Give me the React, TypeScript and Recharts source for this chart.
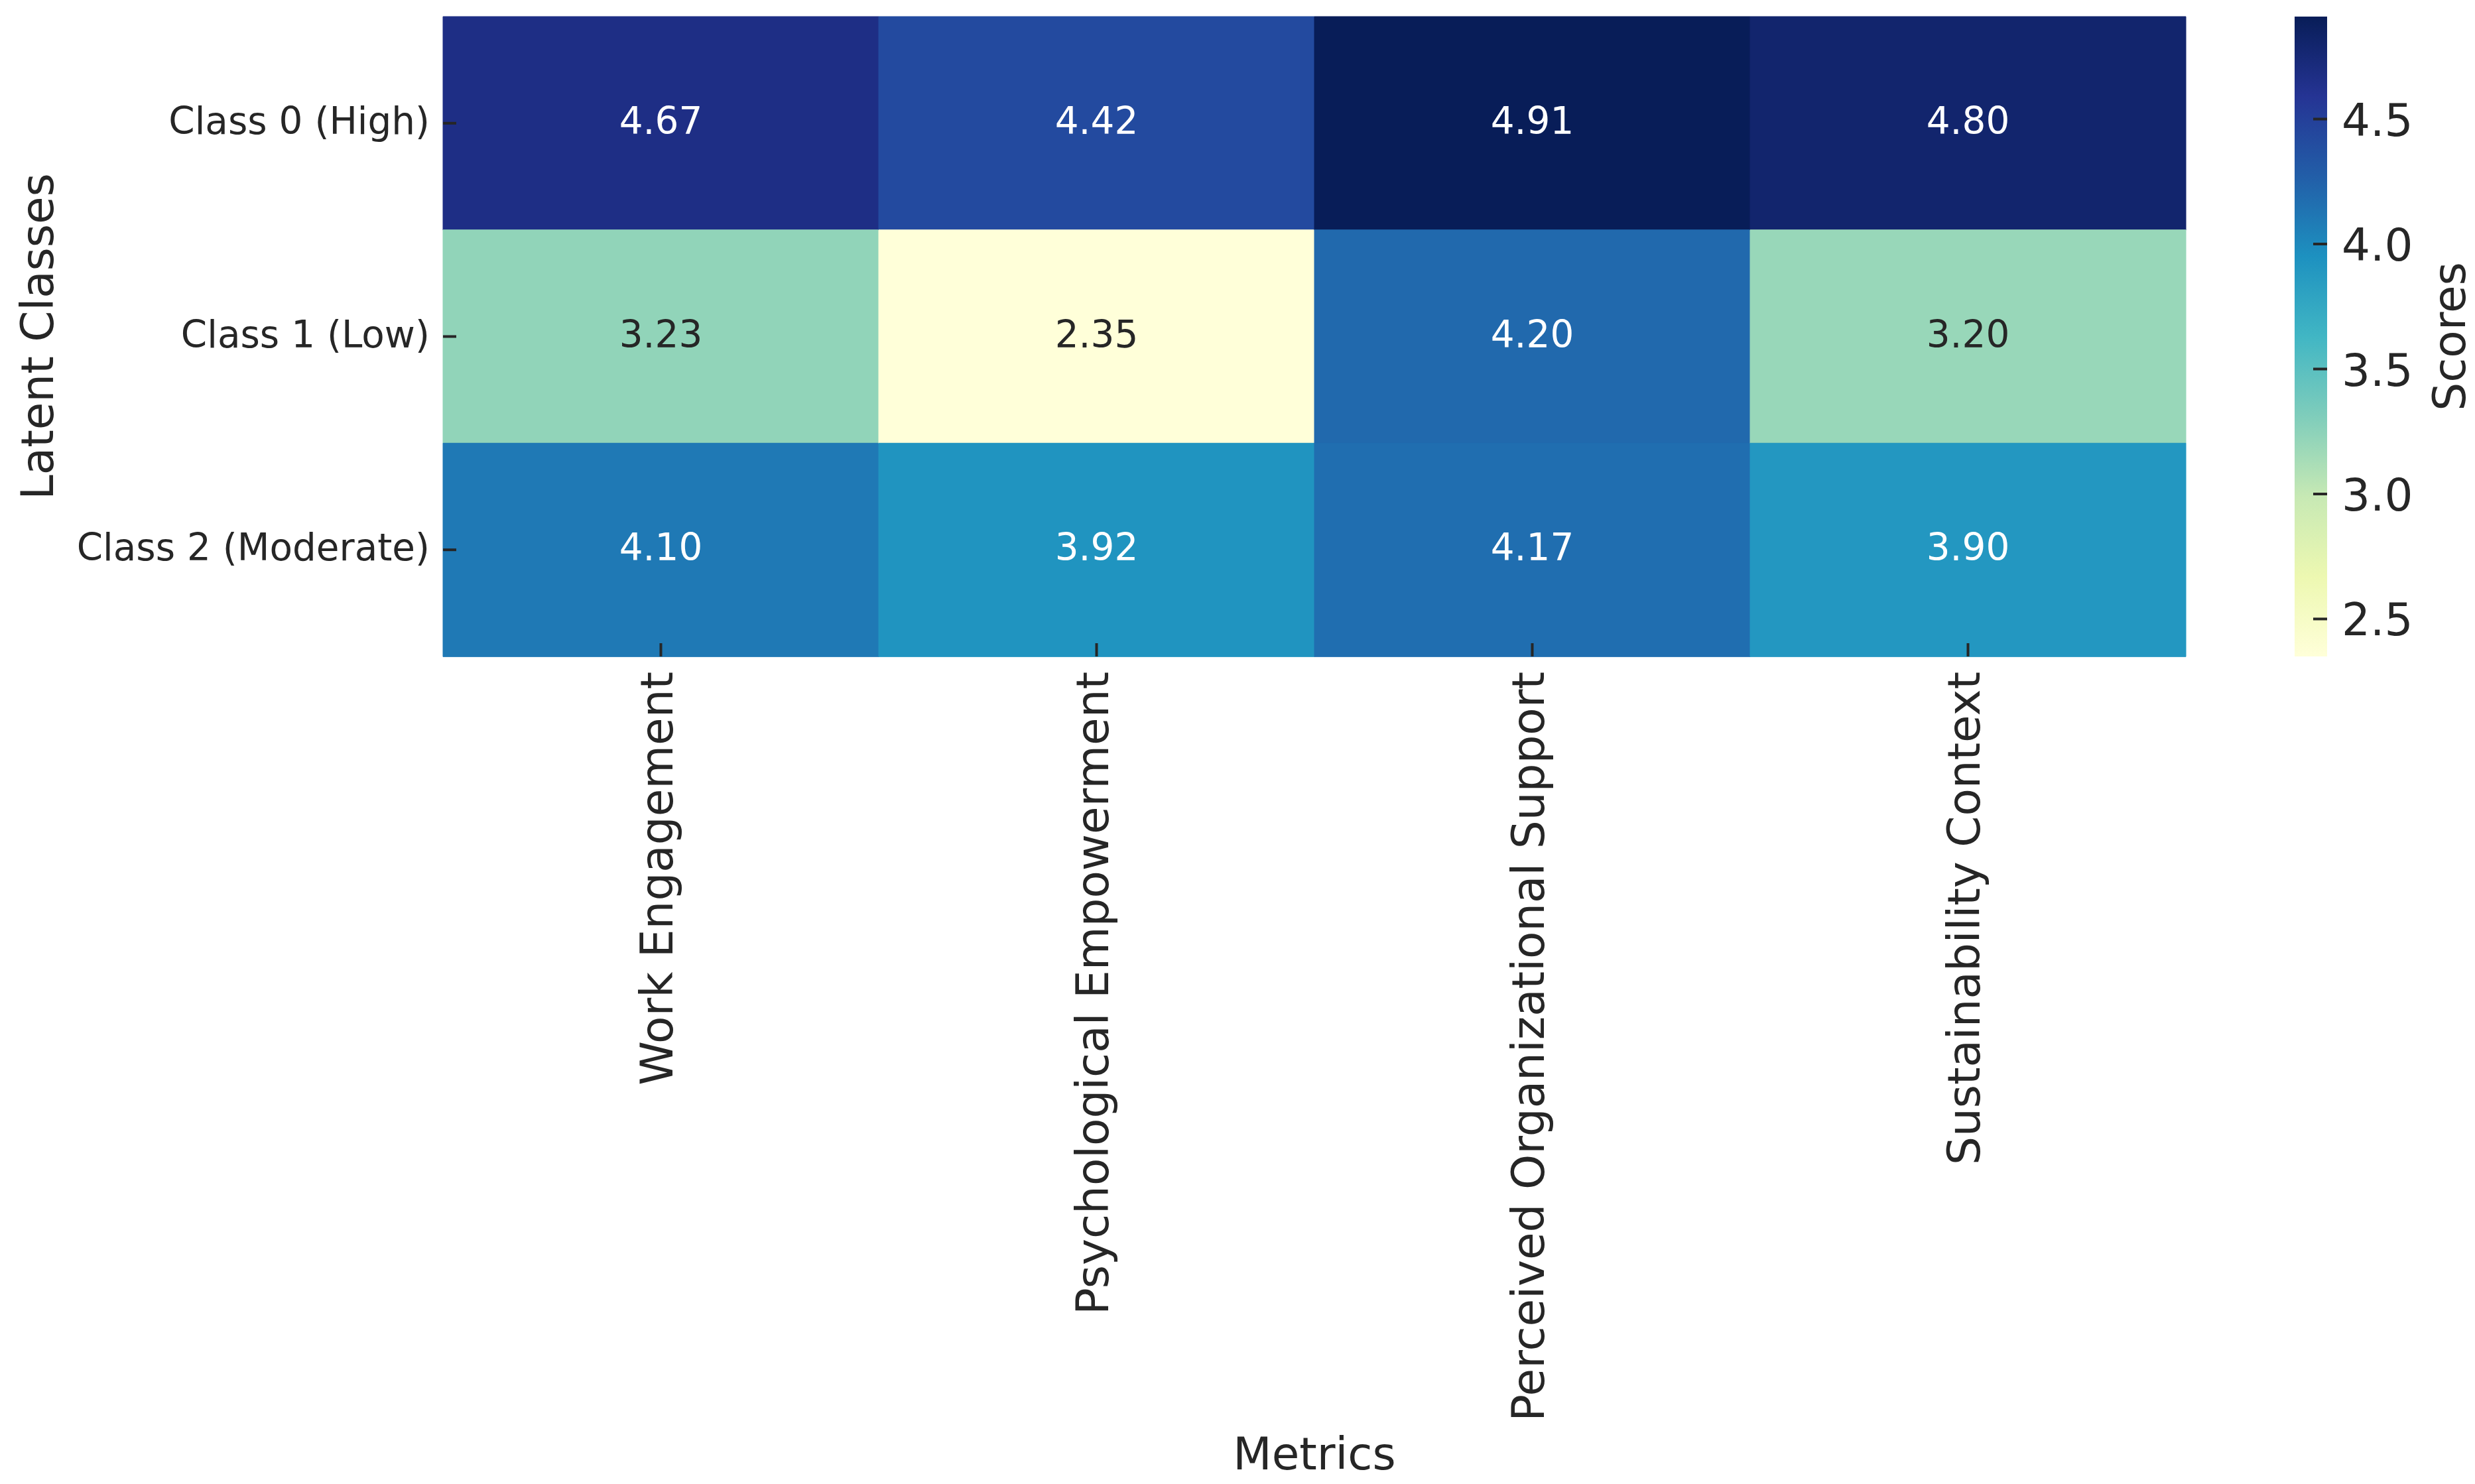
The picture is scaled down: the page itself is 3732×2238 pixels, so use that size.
import React from 'react';
import { BarChart, Bar, XAxis, YAxis, Cell, LabelList, Label } from 'recharts';

const classes = ['Class 0 (High)', 'Class 1 (Low)', 'Class 2 (Moderate)'];
const metrics = ['Work Engagement', 'Psychological Empowerment', 'Perceived Organizational Support', 'Sustainability Context'];
const class0Scores = [4.67, 4.42, 4.91, 4.8];
const class1Scores = [3.23, 2.35, 4.2, 3.2];
const class2Scores = [4.1, 3.92, 4.17, 3.9];
const colorbarTicks = [2.5, 3.0, 3.5, 4.0, 4.5];
const xTickPositions = [0.5, 1.5, 2.5, 3.5];

const scoreRows = [class0Scores, class1Scores, class2Scores];
const allScores = scoreRows.flat();
const vmin = Math.min(...allScores);
const vmax = Math.max(...allScores);

const YLGNBU = ['#ffffd9', '#edf8b1', '#c7e9b4', '#7fcdbb', '#41b6c4', '#1d91c0', '#225ea8', '#253494', '#081d58'];

const hexToRgb = (h: string) => [parseInt(h.slice(1, 3), 16), parseInt(h.slice(3, 5), 16), parseInt(h.slice(5, 7), 16)];

function colorRgb(v: number) {
  const t = Math.max(0, Math.min(1, (v - vmin) / (vmax - vmin)));
  const pos = t * (YLGNBU.length - 1);
  const i = Math.min(YLGNBU.length - 2, Math.floor(pos));
  const f = pos - i;
  const a = hexToRgb(YLGNBU[i]);
  const b = hexToRgb(YLGNBU[i + 1]);
  return a.map((c, k) => Math.round(c + (b[k] - c) * f));
}
function colorFor(v: number) {
  const [r, g, b] = colorRgb(v);
  return `rgb(${r},${g},${b})`;
}
function luminance(v: number) {
  const rgb = colorRgb(v).map((c) => {
    const s = c / 255;
    return s <= 0.03928 ? s / 12.92 : Math.pow((s + 0.055) / 1.055, 2.4);
  });
  return 0.2126 * rgb[0] + 0.7152 * rgb[1] + 0.0722 * rgb[2];
}

const tableData = classes.map((name, i) => {
  const row: any = { name };
  metrics.forEach((_, j) => {
    row[`u${j}`] = 1;
    row[`s${j}`] = scoreRows[i][j];
  });
  return row;
});

const colorbarData = [{ name: 'cb', range: [vmin, vmax] }];

const FONT = 'DejaVu Sans, Verdana, sans-serif';
const TEXT = '#262626';
const TICK_FS = 56.4;
const XTICK_FS = 67.6;
const LABEL_FS = 67.6;

const YTick = (props: any) => {
  const { x, y, payload } = props;
  return (
    <g>
      <line x1={x} y1={y} x2={x + 20} y2={y} stroke={TEXT} strokeWidth={4} />
      <text x={x - 20} y={y} dy={16} textAnchor="end" fontSize={TICK_FS} fontFamily={FONT} fill={TEXT}>
        {payload.value}
      </text>
    </g>
  );
};

const XTick = (props: any) => {
  const { x, y, payload } = props;
  const label = metrics[Math.floor(payload.value)];
  return (
    <g>
      <line x1={x} y1={y} x2={x} y2={y - 20} stroke={TEXT} strokeWidth={4} />
      <text
        x={x}
        y={y + 23}
        dy="0.26em"
        textAnchor="end"
        transform={`rotate(-90, ${x}, ${y + 23})`}
        fontSize={XTICK_FS}
        fontFamily={FONT}
        fill={TEXT}
      >
        {label}
      </text>
    </g>
  );
};

const CbTick = (props: any) => {
  const { x, y, payload } = props;
  return (
    <g>
      <line x1={x - 21} y1={y} x2={x} y2={y} stroke={TEXT} strokeWidth={4} />
      <text x={x + 22} y={y} dy={25} textAnchor="start" fontSize={LABEL_FS} fontFamily={FONT} fill={TEXT}>
        {Number(payload.value).toFixed(1)}
      </text>
    </g>
  );
};

const renderAnno = (props: any) => {
  const { x, y, width, height, value } = props;
  const fill = luminance(value) > 0.408 ? TEXT : '#ffffff';
  return (
    <text
      x={x + width / 2}
      y={y + height / 2}
      dy={16}
      textAnchor="middle"
      fontSize={TICK_FS}
      fontFamily={FONT}
      fill={fill}
    >
      {Number(value).toFixed(2)}
    </text>
  );
};

export default function App() {
  return (
    <div style={{ position: 'absolute', left: 0, top: 0, width: 3732, height: 2238, background: '#ffffff' }}>
      <div style={{ position: 'absolute', left: 0, top: 0 }}>
        <BarChart
          width={3732}
          height={2238}
          data={tableData}
          layout="vertical"
          margin={{ top: 25, right: 436, bottom: 0, left: 0 }}
          barCategoryGap={0}
          barGap={0}
        >
          <XAxis
            type="number"
            domain={[0, metrics.length]}
            ticks={xTickPositions}
            interval={0}
            height={1248}
            axisLine={false}
            tickLine={false}
            tickSize={0}
            tickMargin={0}
            tick={<XTick />}
          >
            <Label
              content={(p: any) => {
                const vb = p.viewBox;
                return (
                  <text
                    x={vb.x + vb.width / 2}
                    y={vb.y + vb.height - 22}
                    textAnchor="middle"
                    fontSize={LABEL_FS}
                    fontFamily={FONT}
                    fill={TEXT}
                  >
                    Metrics
                  </text>
                );
              }}
            />
          </XAxis>
          <YAxis
            type="category"
            dataKey="name"
            width={668}
            interval={0}
            axisLine={false}
            tickLine={false}
            tickSize={0}
            tickMargin={0}
            tick={<YTick />}
          >
            <Label
              content={(p: any) => {
                const vb = p.viewBox;
                const cy = vb.y + vb.height / 2;
                return (
                  <text
                    x={80}
                    y={cy}
                    textAnchor="middle"
                    transform={`rotate(-90, 80, ${cy})`}
                    fontSize={LABEL_FS}
                    fontFamily={FONT}
                    fill={TEXT}
                  >
                    Latent Classes
                  </text>
                );
              }}
            />
          </YAxis>
          {metrics.map((m, j) => (
            <Bar key={m} dataKey={`u${j}`} stackId="heat" isAnimationActive={false}>
              {tableData.map((row, i) => (
                <Cell key={i} fill={colorFor(row[`s${j}`])} stroke={colorFor(row[`s${j}`])} strokeWidth={1} />
              ))}
              <LabelList dataKey={`s${j}`} content={renderAnno} />
            </Bar>
          ))}
        </BarChart>
      </div>
      <div style={{ position: 'absolute', left: 3440, top: 0 }}>
        <BarChart
          width={292}
          height={2238}
          data={colorbarData}
          margin={{ top: 25, right: 0, bottom: 1248, left: 20 }}
          barCategoryGap={0}
        >
          <defs>
            <linearGradient id="ylgnbu" x1="0" y1="1" x2="0" y2="0">
              {YLGNBU.map((c, i) => (
                <stop key={c} offset={`${(i / (YLGNBU.length - 1)) * 100}%`} stopColor={c} />
              ))}
            </linearGradient>
          </defs>
          <XAxis type="category" dataKey="name" hide />
          <YAxis
            type="number"
            orientation="right"
            domain={[vmin, vmax]}
            ticks={colorbarTicks}
            interval={0}
            width={223}
            allowDataOverflow
            axisLine={false}
            tickLine={false}
            tickSize={0}
            tickMargin={0}
            tick={<CbTick />}
          >
            <Label
              content={(p: any) => {
                const vb = p.viewBox;
                const cx = vb.x + 208;
                const cy = vb.y + vb.height / 2;
                return (
                  <text
                    x={cx}
                    y={cy}
                    textAnchor="middle"
                    transform={`rotate(-90, ${cx}, ${cy})`}
                    fontSize={LABEL_FS}
                    fontFamily={FONT}
                    fill={TEXT}
                  >
                    Scores
                  </text>
                );
              }}
            />
          </YAxis>
          <Bar dataKey="range" fill="url(#ylgnbu)" isAnimationActive={false} />
        </BarChart>
      </div>
    </div>
  );
}
